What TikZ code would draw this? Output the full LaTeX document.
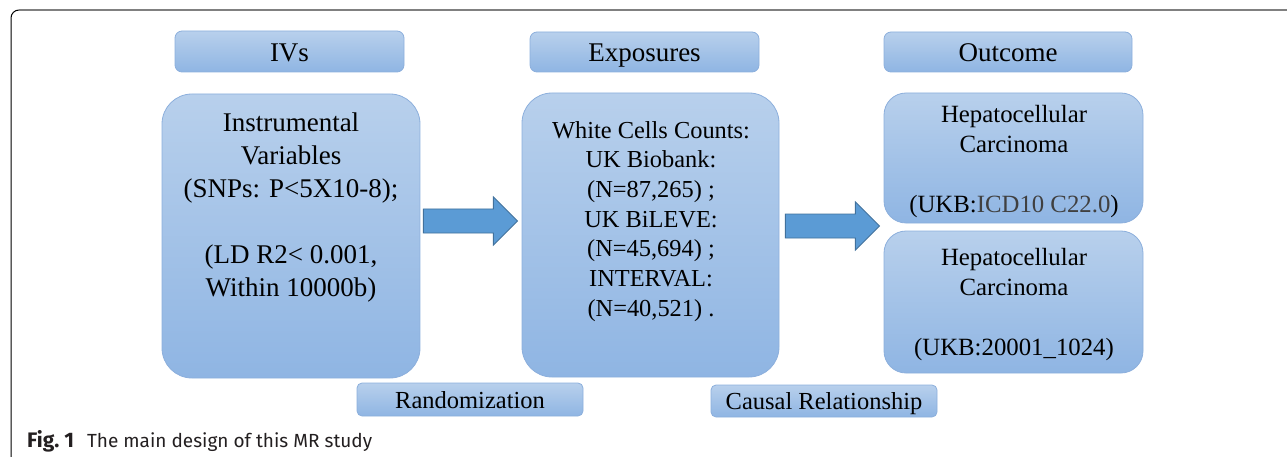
\documentclass[tikz,border=0pt]{standalone}
\usepackage{fontspec}
\setmainfont{Liberation Serif}
\newfontfamily\capfont{Fira Sans}
\usetikzlibrary{calc}
\definecolor{boxtop}{RGB}{184,208,236}
\definecolor{boxbot}{RGB}{143,181,227}
\definecolor{boxline}{RGB}{140,175,220}
\definecolor{arrfill}{RGB}{91,155,213}
\definecolor{arrline}{RGB}{65,113,156}
\definecolor{capcol}{RGB}{35,31,32}
\definecolor{framegray}{RGB}{128,128,128}
\definecolor{dimtext}{RGB}{64,64,64}
\tikzset{
  bluebox/.style={shade, top color=boxtop, bottom color=boxbot, draw=boxline, line width=0.8pt, inner sep=0pt},
  headbox/.style={bluebox, rounded corners=7pt, font=\fontsize{27}{33}\selectfont, text height=20pt, text depth=0pt},
  labbox/.style={bluebox, rounded corners=5pt, font=\fontsize{24.5}{30}\selectfont, text height=17pt, text depth=0pt},
  blockarrow/.style={fill=arrfill, draw=arrline, line width=0.9pt, line join=miter},
  boxtext/.style={anchor=north, align=center, inner sep=0pt}
}
\begin{document}
\begin{tikzpicture}[x=1pt,y=-1pt]
\useasboundingbox (0,0) rectangle (1287,457);
% frame
\draw[black, line width=1pt] (11,457) -- (11,18) arc[start angle=180, end angle=270, radius=8];
\draw[framegray, line width=2pt] (19,10) -- (1287,10);

% headers
\node[headbox, minimum width=229pt, minimum height=41pt] (ivh) at (289.5,51.5) {IVs};
\node[headbox, minimum width=229pt, minimum height=40pt] (exh) at (644.5,52) {Exposures};
\node[headbox, minimum width=248pt, minimum height=40pt] (outh) at (1008,52) {Outcome};

% main boxes
\node[bluebox, rounded corners=30pt, minimum width=258pt, minimum height=284pt] (ivb) at (291,236) {};
\node[bluebox, rounded corners=30pt, minimum width=257pt, minimum height=284pt] (exb) at (650.5,235) {};
\node[bluebox, rounded corners=22pt, minimum width=259pt, minimum height=130pt] (hcc1) at (1013.5,158) {};
\node[bluebox, rounded corners=22pt, minimum width=259pt, minimum height=142pt] (hcc2) at (1013.5,302) {};

\node[boxtext, font=\fontsize{27}{33}\selectfont] (ivt) at (291,113)
  {Instrumental\\Variables\\(SNPs: P<5X10-8);\\~\\(LD R2< 0.001,\\Within 10000b)};
\node[boxtext, font=\fontsize{24.4}{29.7}\selectfont] (ext) at (651,121)
  {White Cells Counts:\\UK Biobank:\\(N=87,265) ;\\UK BiLEVE:\\(N=45,694) ;\\INTERVAL:\\(N=40,521) .};
\node[boxtext, font=\fontsize{24.8}{30}\selectfont] (hcct1) at (1014,105)
  {Hepatocellular\\Carcinoma\\~\\(UKB:{\color{dimtext}ICD10 C22.0})};
\node[boxtext, font=\fontsize{24.8}{30}\selectfont] (hcct2) at (1014,248)
  {Hepatocellular\\Carcinoma\\~\\(UKB:20001\_1024)};

% bottom labels
\node[labbox, minimum width=226pt, minimum height=33pt] (rand) at (470,399.5) {Randomization};
\node[labbox, minimum width=226pt, minimum height=32pt] (causal) at (824,401) {Causal Relationship};

% block arrows
\coordinate (a1) at ($(ivb.east)+(3,-15)$);
\draw[blockarrow] (a1) ++(0,-12) -- ++(70,0) -- ++(0,-12) -- ++(24,24) -- ++(-24,24) -- ++(0,-12) -- ++(-70,0) -- cycle;
\coordinate (a2) at ($(exb.east)+(6,-9)$);
\draw[blockarrow] (a2) ++(0,-12) -- ++(70,0) -- ++(0,-12) -- ++(24,24) -- ++(-24,24) -- ++(0,-12) -- ++(-70,0) -- cycle;

% caption
\node[anchor=base west, inner sep=0pt, text=capcol, font=\capfont\fontsize{19}{23}\selectfont] (cap) at (27,447)
  {{\fontsize{21}{23}\selectfont\textbf{Fig.~1}}\hspace{13pt}The main design of this MR study};
\end{tikzpicture}
\end{document}
